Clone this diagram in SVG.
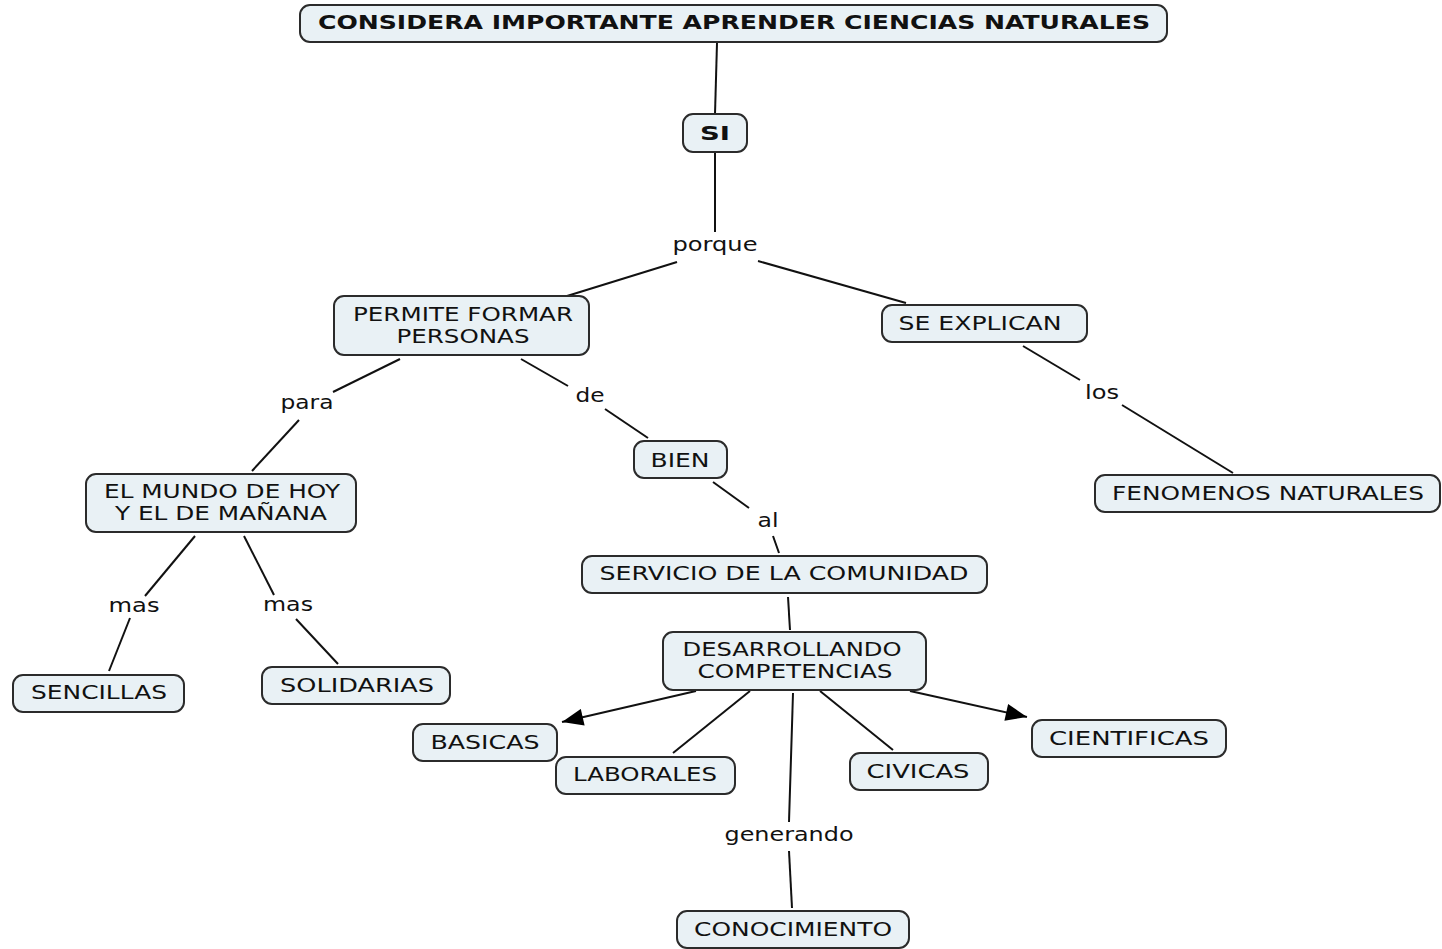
<svg xmlns="http://www.w3.org/2000/svg" width="1442" height="949" viewBox="0 0 1442 949">
<defs>
<style>
.n rect{fill:#e9f1f5;stroke:#2b2b2b;stroke-width:2}
text{font-family:"DejaVu Sans","Liberation Sans",sans-serif;font-size:20px;fill:#111;text-anchor:middle}
.b{font-weight:bold;font-size:19px}
#connectors line{stroke:#111;stroke-width:2}
</style>
<marker id="arr" viewBox="0 0 20 16" refX="20" refY="8" markerWidth="22" markerHeight="17" markerUnits="userSpaceOnUse" orient="auto"><path d="M0,0L20,8L0,16z" fill="#000"/></marker>
</defs>
<rect width="1442" height="949" fill="#fff"/>
<g id="connectors">
<line x1="717" y1="43" x2="715" y2="114"/>
<line x1="715" y1="153" x2="715" y2="232"/>
<line x1="677" y1="262" x2="567" y2="296"/>
<line x1="758" y1="261" x2="906" y2="303"/>
<line x1="400" y1="359" x2="333" y2="392"/>
<line x1="299" y1="420" x2="252" y2="471"/>
<line x1="521" y1="359" x2="568" y2="386"/>
<line x1="605" y1="409" x2="648" y2="438"/>
<line x1="1023" y1="346" x2="1080" y2="380"/>
<line x1="1122" y1="405" x2="1233" y2="473"/>
<line x1="713" y1="482" x2="749" y2="508"/>
<line x1="773" y1="536" x2="779" y2="553"/>
<line x1="788" y1="597" x2="790" y2="630"/>
<line x1="195" y1="536" x2="145" y2="596"/>
<line x1="130" y1="618" x2="109" y2="671"/>
<line x1="244" y1="536" x2="274" y2="595"/>
<line x1="296" y1="619" x2="338" y2="664"/>
<line x1="696" y1="691" x2="562" y2="722" marker-end="url(#arr)"/>
<line x1="750" y1="691" x2="673" y2="753"/>
<line x1="793" y1="693" x2="789" y2="822"/>
<line x1="789" y1="851" x2="792" y2="908"/>
<line x1="820" y1="691" x2="893" y2="750"/>
<line x1="910" y1="691" x2="1027" y2="717" marker-end="url(#arr)"/>
</g>
<g id="labels">
<text x="715" y="251" textLength="85" lengthAdjust="spacingAndGlyphs">porque</text>
<text x="307" y="409" textLength="53" lengthAdjust="spacingAndGlyphs">para</text>
<text x="590" y="402" textLength="29" lengthAdjust="spacingAndGlyphs">de</text>
<text x="1102" y="399" textLength="34" lengthAdjust="spacingAndGlyphs">los</text>
<text x="768" y="527" textLength="21" lengthAdjust="spacingAndGlyphs">al</text>
<text x="134" y="612" textLength="51" lengthAdjust="spacingAndGlyphs">mas</text>
<text x="288" y="611" textLength="50" lengthAdjust="spacingAndGlyphs">mas</text>
<text x="789" y="841" textLength="129" lengthAdjust="spacingAndGlyphs">generando</text>
</g>
<g id="n-top" class="n"><rect x="300" y="5" width="867" height="37" rx="10"/><text class="b" x="734" y="29" textLength="832" lengthAdjust="spacingAndGlyphs">CONSIDERA IMPORTANTE APRENDER CIENCIAS NATURALES</text></g>
<g id="n-si" class="n"><rect x="683" y="114" width="64" height="38" rx="10"/><text class="b" x="715" y="140" textLength="30" lengthAdjust="spacingAndGlyphs">SI</text></g>
<g id="n-permite" class="n"><rect x="334" y="296" width="255" height="59" rx="10"/><text x="463" y="321" textLength="220" lengthAdjust="spacingAndGlyphs">PERMITE FORMAR</text><text x="463" y="343" textLength="133" lengthAdjust="spacingAndGlyphs">PERSONAS</text></g>
<g id="n-explican" class="n"><rect x="882" y="305" width="205" height="37" rx="10"/><text x="980" y="330" textLength="163" lengthAdjust="spacingAndGlyphs">SE EXPLICAN</text></g>
<g id="n-bien" class="n"><rect x="634" y="441" width="93" height="37" rx="10"/><text x="680" y="467" textLength="59" lengthAdjust="spacingAndGlyphs">BIEN</text></g>
<g id="n-mundo" class="n"><rect x="86" y="474" width="270" height="58" rx="10"/><text x="222" y="498" textLength="236" lengthAdjust="spacingAndGlyphs">EL MUNDO DE HOY</text><text x="221" y="520" textLength="212" lengthAdjust="spacingAndGlyphs">Y EL DE MAÑANA</text></g>
<g id="n-fenomenos" class="n"><rect x="1095" y="475" width="345" height="37" rx="10"/><text x="1268" y="500" textLength="312" lengthAdjust="spacingAndGlyphs">FENOMENOS NATURALES</text></g>
<g id="n-servicio" class="n"><rect x="582" y="556" width="405" height="37" rx="10"/><text x="784" y="580" textLength="369" lengthAdjust="spacingAndGlyphs">SERVICIO DE LA COMUNIDAD</text></g>
<g id="n-desarrollando" class="n"><rect x="663" y="632" width="263" height="58" rx="10"/><text x="792" y="656" textLength="219" lengthAdjust="spacingAndGlyphs">DESARROLLANDO</text><text x="795" y="678" textLength="195" lengthAdjust="spacingAndGlyphs">COMPETENCIAS</text></g>
<g id="n-sencillas" class="n"><rect x="13" y="675" width="171" height="37" rx="10"/><text x="99" y="699" textLength="136" lengthAdjust="spacingAndGlyphs">SENCILLAS</text></g>
<g id="n-solidarias" class="n"><rect x="262" y="667" width="188" height="37" rx="10"/><text x="357" y="692" textLength="154" lengthAdjust="spacingAndGlyphs">SOLIDARIAS</text></g>
<g id="n-basicas" class="n"><rect x="413" y="724" width="144" height="37" rx="10"/><text x="485" y="749" textLength="109" lengthAdjust="spacingAndGlyphs">BASICAS</text></g>
<g id="n-laborales" class="n"><rect x="556" y="757" width="179" height="37" rx="10"/><text x="645" y="781" textLength="144" lengthAdjust="spacingAndGlyphs">LABORALES</text></g>
<g id="n-civicas" class="n"><rect x="850" y="753" width="138" height="37" rx="10"/><text x="918" y="778" textLength="103" lengthAdjust="spacingAndGlyphs">CIVICAS</text></g>
<g id="n-cientificas" class="n"><rect x="1032" y="720" width="194" height="37" rx="10"/><text x="1129" y="745" textLength="160" lengthAdjust="spacingAndGlyphs">CIENTIFICAS</text></g>
<g id="n-conocimiento" class="n"><rect x="677" y="911" width="232" height="37" rx="10"/><text x="793" y="936" textLength="198" lengthAdjust="spacingAndGlyphs">CONOCIMIENTO</text></g>
</svg>
